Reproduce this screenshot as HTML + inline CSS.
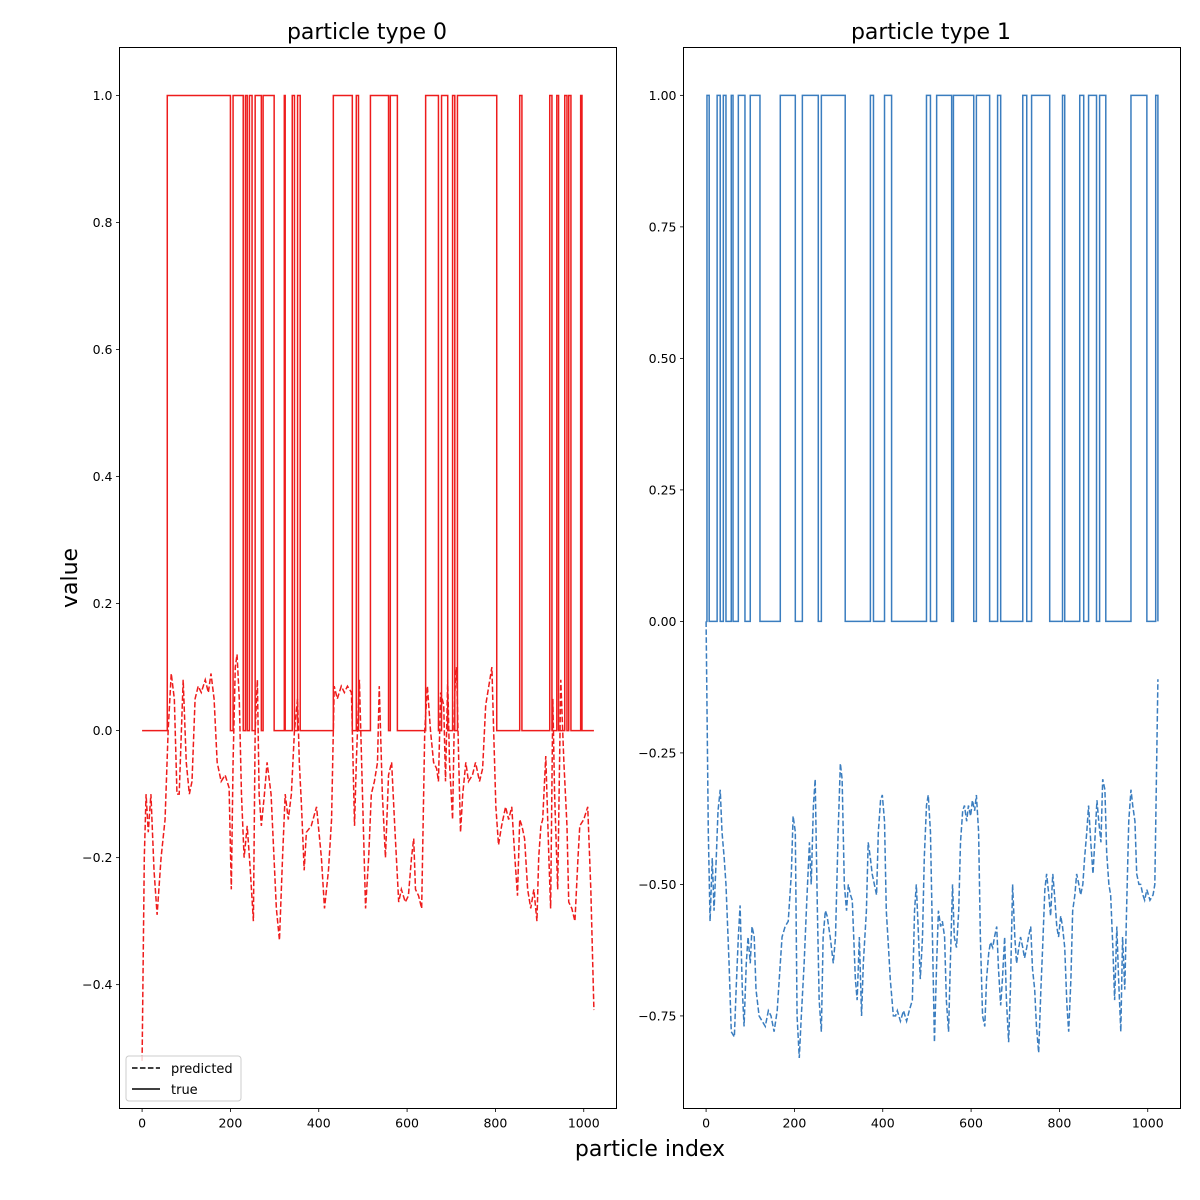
<!DOCTYPE html>
<html><head><meta charset="utf-8">
<style>
html,body{margin:0;padding:0;background:#fff;}
svg{display:block;font-family:"DejaVu Sans","Liberation Sans",sans-serif;}
</style></head>
<body>
<svg id="chart" width="1200" height="1200" viewBox="0 0 1200 1200" xmlns="http://www.w3.org/2000/svg">
<rect width="1200" height="1200" fill="#fff"/>
<text x="367" y="39" font-size="22" text-anchor="middle">particle type 0</text>
<text x="931" y="39" font-size="22" text-anchor="middle">particle type 1</text>
<text transform="translate(77,578) rotate(-90)" font-size="22" text-anchor="middle">value</text>
<text x="650" y="1156" font-size="22" text-anchor="middle">particle index</text>
<g id="plots"></g>
</svg>
<script>
// ---- data: particle type 0 ----
const t0Edges = [57,200,206,229,234,238,243,249,256,270,274,299,322,324,340,345,352,358,433,476,485,490,517,558,562,578,642,671,678,692,703,708,714,803,855,860,923,928,939,943,957,962,966,971,993,996];
const p0Idx = [0,5,9,14,20,27,34,43,52,59,66,73,79,84,93,100,107,113,120,127,134,143,150,156,163,170,179,188,197,202,206,211,215,220,225,231,238,245,252,256,261,265,270,277,283,292,304,311,318,324,331,338,345,352,356,361,367,372,383,395,406,413,422,429,435,442,451,458,465,474,481,485,492,499,506,513,519,526,533,537,544,551,558,565,572,581,587,596,603,610,615,619,626,633,640,646,653,660,667,671,676,683,687,692,696,703,708,712,717,721,726,733,739,748,755,764,771,778,785,792,796,801,807,814,823,830,837,844,850,855,860,866,873,880,887,894,898,903,907,914,921,925,930,934,941,948,955,962,966,973,980,987,991,1000,1009,1016,1023];
const p0Val = [-0.52,-0.2,-0.1,-0.16,-0.1,-0.22,-0.29,-0.2,-0.14,0.0,0.09,0.05,-0.1,-0.1,0.08,-0.05,-0.1,-0.08,0.05,0.07,0.06,0.08,0.06,0.09,0.05,-0.05,-0.08,-0.07,-0.09,-0.25,-0.05,0.1,0.12,0.05,-0.1,-0.2,-0.15,-0.22,-0.3,0.0,0.08,-0.1,-0.15,-0.1,-0.05,-0.1,-0.28,-0.33,-0.2,-0.1,-0.14,-0.1,0.0,0.05,-0.05,-0.12,-0.22,-0.16,-0.15,-0.12,-0.2,-0.28,-0.22,-0.14,0.07,0.05,0.07,0.06,0.07,0.06,-0.15,-0.05,0.08,-0.1,-0.28,-0.2,-0.1,-0.08,-0.05,0.07,-0.1,-0.2,-0.07,-0.05,-0.15,-0.27,-0.25,-0.27,-0.26,-0.2,-0.17,-0.25,-0.26,-0.28,0.0,0.07,0.0,-0.05,-0.06,-0.08,0.06,0.04,-0.08,0.08,-0.05,-0.14,0.06,0.1,-0.05,-0.16,-0.1,-0.05,-0.08,-0.07,-0.05,-0.08,-0.06,0.04,0.07,0.1,0.0,-0.12,-0.18,-0.15,-0.12,-0.14,-0.12,-0.2,-0.26,-0.14,-0.15,-0.17,-0.25,-0.28,-0.25,-0.3,-0.2,-0.15,-0.14,-0.04,-0.2,-0.28,0.05,-0.1,-0.25,0.08,-0.05,-0.15,-0.27,-0.28,-0.3,-0.2,-0.15,-0.14,-0.12,-0.25,-0.44];
// ---- data: particle type 1 ----
const t1Edges = [2,7,25,32,39,45,57,61,73,88,100,122,168,202,218,254,261,315,372,379,404,420,499,508,522,556,560,606,612,642,660,667,717,726,737,778,807,812,846,855,866,884,891,905,962,998,1018,1023];
const p1Idx = [0,5,9,14,18,23,27,32,36,41,45,52,57,64,68,73,77,82,86,91,95,100,104,109,113,120,127,134,141,147,154,161,168,172,179,186,193,197,202,206,211,215,222,227,234,238,243,247,252,256,261,265,270,274,281,288,293,299,304,308,313,318,322,327,331,338,342,347,352,356,363,367,372,376,381,386,390,395,399,404,408,413,417,424,429,433,440,447,454,460,467,472,476,481,485,490,494,499,503,508,513,517,522,526,531,535,540,544,549,553,558,562,567,572,576,581,585,590,594,599,603,608,612,617,621,626,631,635,640,644,649,653,658,662,667,671,676,680,685,689,694,699,703,708,712,717,721,726,730,735,739,744,748,753,758,762,767,771,776,780,785,789,794,798,803,807,812,817,821,826,830,835,839,844,848,853,857,862,866,871,876,880,885,889,894,898,903,907,912,916,921,925,930,934,939,943,948,952,957,962,966,971,975,980,984,989,993,998,1005,1012,1016,1023];
const p1Val = [0,-0.4,-0.57,-0.45,-0.55,-0.45,-0.36,-0.32,-0.4,-0.45,-0.5,-0.65,-0.78,-0.79,-0.7,-0.6,-0.54,-0.7,-0.77,-0.65,-0.6,-0.65,-0.58,-0.6,-0.7,-0.75,-0.76,-0.77,-0.74,-0.75,-0.78,-0.74,-0.65,-0.6,-0.58,-0.57,-0.48,-0.37,-0.4,-0.75,-0.83,-0.76,-0.65,-0.55,-0.42,-0.5,-0.35,-0.3,-0.55,-0.72,-0.78,-0.6,-0.55,-0.56,-0.6,-0.65,-0.6,-0.4,-0.27,-0.3,-0.5,-0.55,-0.5,-0.52,-0.53,-0.68,-0.72,-0.6,-0.75,-0.65,-0.55,-0.42,-0.45,-0.48,-0.5,-0.52,-0.4,-0.34,-0.33,-0.38,-0.55,-0.62,-0.68,-0.75,-0.75,-0.74,-0.76,-0.74,-0.76,-0.74,-0.72,-0.55,-0.5,-0.6,-0.68,-0.6,-0.45,-0.35,-0.33,-0.4,-0.62,-0.8,-0.65,-0.55,-0.58,-0.57,-0.6,-0.72,-0.78,-0.65,-0.5,-0.6,-0.62,-0.55,-0.42,-0.36,-0.35,-0.38,-0.35,-0.37,-0.34,-0.36,-0.33,-0.4,-0.6,-0.75,-0.77,-0.68,-0.63,-0.61,-0.62,-0.6,-0.58,-0.66,-0.73,-0.68,-0.6,-0.72,-0.8,-0.7,-0.5,-0.6,-0.65,-0.62,-0.6,-0.62,-0.64,-0.62,-0.6,-0.58,-0.66,-0.7,-0.77,-0.82,-0.7,-0.62,-0.51,-0.48,-0.52,-0.56,-0.48,-0.52,-0.58,-0.6,-0.56,-0.58,-0.62,-0.73,-0.78,-0.68,-0.55,-0.52,-0.48,-0.5,-0.52,-0.5,-0.45,-0.4,-0.35,-0.42,-0.48,-0.42,-0.34,-0.38,-0.42,-0.3,-0.32,-0.44,-0.5,-0.52,-0.62,-0.72,-0.58,-0.68,-0.78,-0.6,-0.7,-0.55,-0.38,-0.32,-0.35,-0.38,-0.48,-0.5,-0.5,-0.52,-0.53,-0.51,-0.53,-0.52,-0.5,-0.11];
const xTicks = [0,200,400,600,800,1000];
const y0Ticks = [-0.4,-0.2,0.0,0.2,0.4,0.6,0.8,1.0];
const y1Ticks = [-0.75,-0.5,-0.25,0.0,0.25,0.5,0.75,1.0];
const N = 1023;

const NS = "http://www.w3.org/2000/svg";
const root = document.getElementById('plots');
function mk(tag, attrs, parent){
  const e = document.createElementNS(NS, tag);
  for (const k in attrs) e.setAttribute(k, attrs[k]);
  (parent||root).appendChild(e);
  return e;
}
function fmt(v, d){ const s = Math.abs(v).toFixed(d); return (v < -1e-9 ? '\u2212' : '') + s; }

function trueSeries(edges){
  const xs=[0], ys=[0]; let lvl=0;
  edges.forEach(e=>{ xs.push(e); ys.push(lvl); lvl = 1-lvl; xs.push(e); ys.push(lvl); });
  xs.push(N); ys.push(lvl);
  return [xs, ys];
}

function panel(name, L, R, T, B, ymin, ymax, yTicks, dec, color, edges, pIdx, pVal){
  const xmin=-51.15, xmax=1074.15;
  const X = v => L + (v - xmin)/(xmax - xmin)*(R - L);
  const Y = v => B - (v - ymin)/(ymax - ymin)*(B - T);
  const g = mk('g', {});
  
  
  const cp = mk('clipPath', {id:'cp-'+name}, g);
  mk('rect', {x:L, y:T, width:R-L, height:B-T}, cp);
  const [tx, ty] = trueSeries(edges);
  let d = tx.map((x,i)=>(i?'L':'M')+X(x).toFixed(2)+','+Y(ty[i]).toFixed(2)).join('');
  const tl = mk('path', {d:d, fill:'none', stroke:color, 'stroke-width':1.5, 'stroke-linejoin':'miter', 'clip-path':'url(#cp-'+name+')'}, g);
  
  
  d = pIdx.map((x,i)=>(i?'L':'M')+X(x).toFixed(2)+','+Y(pVal[i]).toFixed(2)).join('');
  const pl = mk('path', {d:d, fill:'none', stroke:color, 'stroke-width':1.5, 'stroke-dasharray':'5.55,2.4', 'clip-path':'url(#cp-'+name+')'}, g);
  
  
  const fr = mk('rect', {x:L, y:T, width:R-L, height:B-T, fill:'none', stroke:'#000', 'stroke-width':1}, g);
  
  
  xTicks.forEach(t=>{
    const x = X(t);
    mk('line', {x1:x, x2:x, y1:B, y2:B+3.5, stroke:'#000', 'stroke-width':0.8}, g);
    const tt = mk('text', {x:x, y:B+19, 'font-size':12.5, 'text-anchor':'middle'}, g);
    
    
    tt.textContent = t;
  });
  yTicks.forEach(t=>{
    const y = Y(t);
    mk('line', {x1:L-3.5, x2:L, y1:y, y2:y, stroke:'#000', 'stroke-width':0.8}, g);
    const tt = mk('text', {x:L-7, y:y+4.5, 'font-size':12.5, 'text-anchor':'end'}, g);
    
    
    tt.textContent = fmt(t, dec);
  });
}

panel('left-plot', 119.5, 616.5, 47.5, 1108.5, -0.595, 1.0756, y0Ticks, 1, '#ee1c1c', t0Edges, p0Idx, p0Val);
panel('right-plot', 683.5, 1180.5, 47.5, 1108.5, -0.926, 1.091, y1Ticks, 2, '#3a7dbf', t1Edges, p1Idx, p1Val);

const lg = mk('g', {});


mk('rect', {x:126, y:1056, width:115, height:45, rx:3, fill:'#fff', 'fill-opacity':0.8, stroke:'#ccc', 'stroke-width':1}, lg);
mk('line', {x1:132, x2:160, y1:1068, y2:1068, stroke:'#000', 'stroke-width':1.5, 'stroke-dasharray':'5.55,2.4'}, lg);
const l1 = mk('text', {x:171, y:1073, 'font-size':13}, lg);


l1.textContent = 'predicted';
mk('line', {x1:132, x2:160, y1:1089, y2:1089, stroke:'#000', 'stroke-width':1.5}, lg);
const l2 = mk('text', {x:171, y:1094, 'font-size':13}, lg);


l2.textContent = 'true';
</script>
</body></html>
